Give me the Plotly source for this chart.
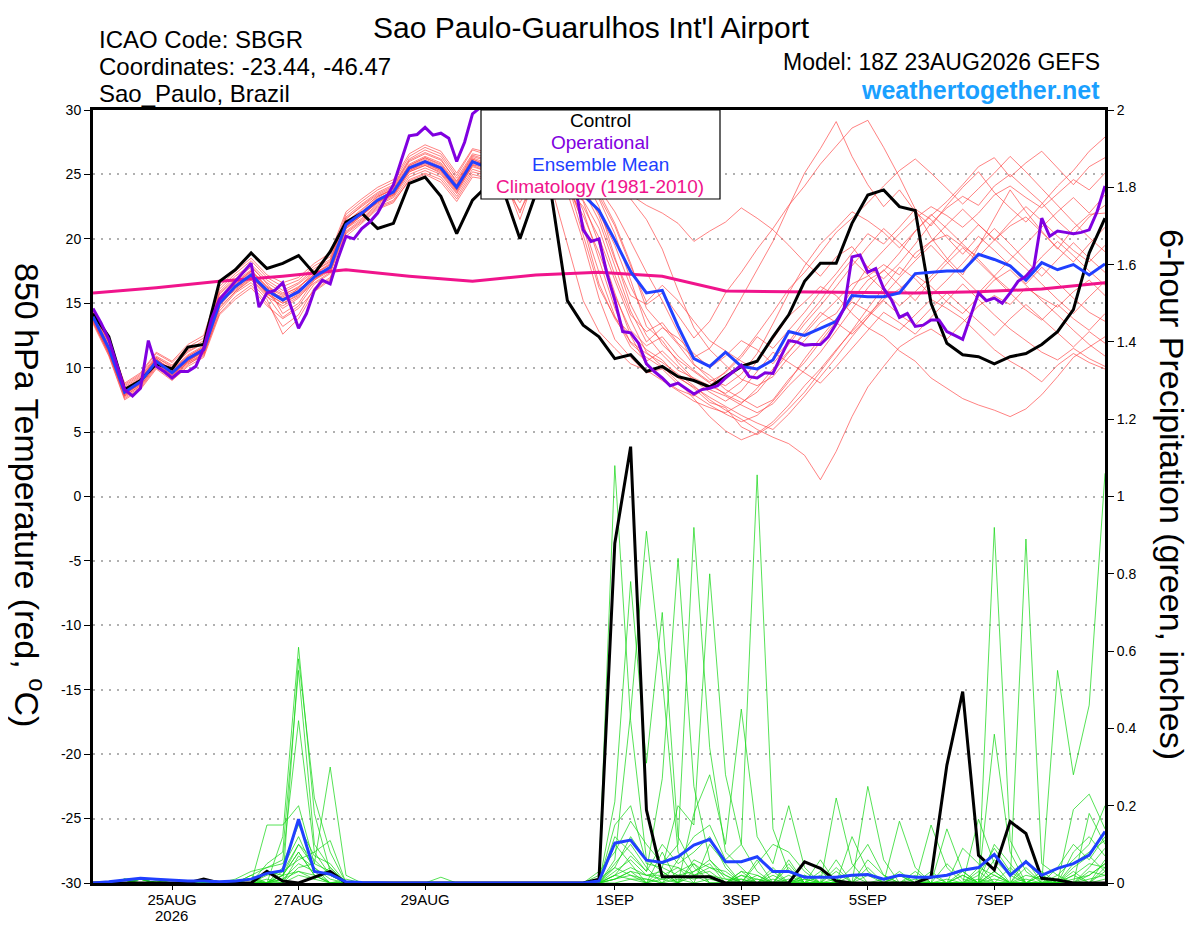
import plotly.graph_objects as go
import pandas as pd

# ---------------- time axis ----------------
START = "2026-08-23 18:00"
times6 = pd.date_range(START, periods=65, freq="6h")
times3 = pd.date_range(START, periods=129, freq="3h")
clim_times = times6[::4]

x_tick_dates = ["2026-08-25", "2026-08-27", "2026-08-29", "2026-09-01",
                "2026-09-03", "2026-09-05", "2026-09-07"]
x_tick_labels = ["25AUG", "27AUG", "29AUG", "1SEP", "3SEP", "5SEP", "7SEP"]
year_label = "2026"
temp_ticks = [-30, -25, -20, -15, -10, -5, 0, 5, 10, 15, 20, 25, 30]
temp_tick_labels = ["-30", "-25", "-20", "-15", "-10", "-5", "0", "5", "10", "15", "20", "25", "30"]
precip_ticks = [0, 0.2, 0.4, 0.6, 0.8, 1.0, 1.2, 1.4, 1.6, 1.8, 2.0]
precip_tick_labels = ["0", "0.2", "0.4", "0.6", "0.8", "1", "1.2", "1.4", "1.6", "1.8", "2"]

# ---------------- 850 hPa temperature (C) ----------------
control_temp = [14.2, 12.4, 8.3, 9.0, 10.3, 9.9, 11.6, 11.8, 16.7, 17.6, 18.9, 17.7, 18.1, 18.7, 17.3,
                19.0, 21.3, 22.0, 20.8, 21.2, 24.3, 24.8, 23.3, 20.4, 23.0, 24.2, 23.6, 20.0, 23.5, 23.3,
                15.2, 13.3, 12.4, 10.7, 11.0, 9.7, 10.1, 9.3, 9.0, 8.5, 9.3, 10.1, 10.5, 12.4, 14.1,
                16.7, 18.1, 18.1, 21.2, 23.4, 23.8, 22.5, 22.2, 15.0, 11.9, 11.0, 10.85, 10.3, 10.85, 11.1,
                11.8, 12.8, 14.5, 18.9, 21.6]

mean_temp = [13.95, 11.5, 8.1, 8.9, 10.5, 9.6, 10.7, 11.4, 15.0, 16.3, 17.2, 16.0, 15.25, 15.9, 17.05,
             17.8, 21.1, 22.0, 23.0, 23.65, 25.5, 26.0, 25.5, 24.0, 26.0, 25.5, 25.0, 24.5, 25.5, 25.8,
             25.0, 23.4, 22.2, 19.9, 17.45, 15.8, 16.0, 13.2, 10.7, 10.1, 11.2, 10.1, 9.9, 10.6, 12.8,
             12.5, 13.05, 13.6, 15.6, 15.5, 15.5, 15.8, 17.3, 17.4, 17.5, 17.5, 18.8, 18.4, 17.9, 16.8,
             18.15, 17.6, 18.0, 17.2, 18.05]

operational_temp = [
    14.6, 13.5, 12.2, 10.2, 8.3, 7.8, 8.4, 12.1,
    10.1, 9.7, 9.2, 9.7, 9.7, 10.1, 11.5, 13.8,
    15.3, 16.0, 16.7, 17.4, 18.1, 14.7, 15.8, 16.0,
    16.6, 14.8, 13.05, 14.2, 16.0, 16.8, 16.5, 18.5,
    20.2, 20.0, 20.8, 21.3, 22.0, 23.1, 24.2, 26.1,
    28.0, 28.1, 28.65, 28.05, 28.2, 27.8, 26.0, 27.5,
    29.7, 30.2, 30.5, 30.0, 29.5, 28.5, 27.8, 28.5,
    29.0, 28.0, 27.5, 27.0, 26.0, 24.0, 20.7, 19.8,
    20.0, 17.3, 15.25, 12.8, 12.7, 11.9, 10.3, 9.7,
    9.2, 8.6, 8.8, 8.4, 7.95, 8.3, 8.4, 8.6,
    9.2, 9.7, 10.2, 9.3, 9.2, 9.6, 9.55, 10.85,
    12.1, 12.0, 11.75, 11.8, 11.8, 12.4, 13.4, 14.6,
    18.6, 18.75, 17.4, 17.7, 16.15, 15.25, 13.9, 14.2,
    13.2, 13.3, 13.7, 13.7, 12.8, 12.5, 12.2, 14.0,
    15.8, 15.2, 15.4, 15.0, 15.8, 16.7, 17.1, 17.8,
    21.6, 20.2, 20.6, 20.5, 20.4, 20.5, 20.7, 22.1,
    24.1]

climatology_temp = [15.8, 16.2, 16.7, 17.1, 17.6, 17.1, 16.7, 17.2, 17.4, 17.1, 15.95, 15.9, 15.85,
                    15.8, 15.9, 16.1, 16.6]

t_m01 = [14.3, 11.9, 8.5, 9.3, 10.8, 10.1, 11.3, 11.9, 15.8, 16.9, 17.9, 16.5, 15.1, 16.2, 17.5, 18.2, 21.5, 22.6, 23.5, 24.1, 26.1, 26.7, 26.2, 24.4, 26.4, 26.0, 25.3, 23.8, 25.2, 24.0, 19.5, 15.2, 12.8, 11.5, 10.3, 9.8, 9.0, 8.2, 7.4, 6.9, 6.5, 7.2, 8.4, 9.9, 11.3, 12.6, 14.0, 15.2, 16.5, 17.1, 18.0, 17.2, 18.9, 19.8, 20.3, 19.4, 18.6, 19.9, 21.0, 21.7, 20.5, 19.3, 18.2, 19.6, 20.9]
t_m02 = [13.7, 11.2, 7.8, 8.6, 10.2, 9.3, 10.4, 11.0, 14.6, 15.9, 16.8, 15.5, 14.8, 15.5, 16.6, 17.4, 20.8, 21.6, 22.7, 23.3, 25.2, 25.7, 25.1, 23.6, 25.7, 25.8, 25.4, 24.9, 26.0, 26.4, 26.1, 25.5, 24.8, 24.0, 23.1, 21.5, 19.2, 16.0, 13.1, 11.4, 10.2, 9.1, 8.6, 9.3, 10.8, 12.1, 13.5, 14.2, 16.0, 17.8, 19.1, 20.4, 21.6, 22.5, 21.8, 20.9, 22.0, 23.4, 24.1, 23.2, 22.4, 23.5, 24.6, 23.8, 25.1]
t_m03 = [14.0, 11.6, 8.0, 8.7, 10.6, 9.8, 10.9, 11.6, 15.3, 16.6, 17.5, 16.2, 15.6, 16.3, 17.2, 18.0, 21.3, 22.2, 23.3, 23.8, 25.7, 26.3, 25.8, 24.2, 26.2, 25.6, 24.9, 24.3, 25.4, 25.7, 24.8, 21.0, 16.5, 13.8, 12.0, 11.1, 10.4, 9.5, 8.6, 7.5, 6.7, 6.0, 5.2, 4.6, 4.1, 3.2, 1.3, 3.5, 6.2, 8.5, 10.1, 11.6, 12.4, 13.0, 12.2, 13.5, 14.8, 15.6, 14.9, 16.2, 15.4, 14.7, 15.9, 16.8, 15.6]
t_m04 = [13.6, 11.0, 7.6, 8.4, 10.0, 9.1, 10.2, 11.1, 14.2, 15.5, 16.4, 15.0, 13.2, 14.1, 16.2, 17.0, 20.2, 21.2, 22.3, 22.8, 24.6, 25.1, 24.6, 23.1, 25.0, 24.7, 24.1, 22.2, 24.4, 24.9, 23.6, 19.8, 15.4, 12.2, 10.8, 9.6, 9.9, 8.7, 7.9, 7.1, 6.4, 5.8, 6.3, 7.4, 8.9, 10.7, 12.3, 13.8, 15.1, 14.4, 13.6, 12.9, 14.1, 15.3, 14.6, 13.8, 12.6, 11.4, 10.5, 9.8, 8.9, 10.2, 11.1, 10.4, 9.9]
t_m05 = [14.5, 12.1, 8.7, 9.5, 11.1, 10.4, 11.6, 12.3, 16.1, 17.3, 18.3, 17.0, 16.3, 16.8, 17.9, 18.6, 21.9, 22.9, 23.8, 24.4, 26.4, 27.1, 26.6, 24.9, 26.9, 26.5, 26.0, 25.6, 26.5, 26.8, 26.2, 24.9, 22.5, 18.6, 14.9, 12.5, 11.0, 9.8, 9.2, 8.6, 8.0, 8.9, 10.5, 12.2, 14.0, 15.1, 16.3, 15.6, 14.2, 13.1, 12.4, 11.3, 10.5, 9.2, 8.4, 7.6, 7.1, 6.7, 6.2, 6.8, 7.9, 9.3, 10.8, 11.6, 12.4]
t_m06 = [13.8, 11.4, 8.2, 9.0, 10.4, 9.5, 10.6, 11.2, 15.1, 16.0, 17.0, 15.8, 14.6, 15.4, 16.9, 17.6, 20.9, 21.8, 22.9, 23.6, 25.3, 25.9, 25.3, 23.8, 25.8, 25.3, 24.7, 23.9, 25.1, 25.5, 24.6, 23.0, 20.8, 17.2, 14.1, 12.8, 13.5, 11.9, 10.8, 11.5, 13.2, 15.4, 17.6, 19.8, 22.5, 25.1, 27.0, 29.1, 26.4, 24.2, 22.5, 23.8, 22.1, 21.0, 22.6, 24.0, 25.2, 23.6, 22.4, 21.3, 22.7, 24.1, 25.3, 26.8, 27.9]
t_m07 = [14.1, 11.7, 8.3, 9.1, 10.7, 9.7, 10.8, 11.5, 15.4, 16.5, 17.4, 16.1, 15.4, 15.9, 17.3, 18.1, 21.2, 22.1, 23.1, 23.7, 25.6, 26.2, 25.6, 24.1, 26.1, 25.5, 24.8, 22.0, 25.3, 25.9, 25.2, 24.1, 21.8, 18.4, 15.6, 14.9, 15.8, 14.1, 12.3, 13.6, 15.8, 17.4, 19.2, 20.8, 22.6, 24.1, 25.8, 27.2, 28.6, 29.2, 27.1, 24.8, 22.3, 20.1, 18.5, 17.2, 19.4, 21.6, 23.8, 22.1, 20.6, 19.2, 20.8, 21.9, 22.0]
t_m08 = [13.5, 11.1, 7.9, 8.8, 10.3, 9.4, 10.5, 11.3, 14.8, 16.2, 17.1, 15.7, 15.0, 15.7, 17.0, 17.9, 21.0, 21.9, 22.8, 23.5, 25.4, 26.0, 25.4, 23.9, 25.9, 25.9, 25.6, 25.2, 26.2, 26.6, 26.3, 25.8, 25.1, 24.3, 23.4, 22.6, 22.0, 21.2, 19.8, 20.6, 21.3, 22.4, 21.6, 20.7, 19.5, 18.2, 17.1, 18.6, 19.4, 17.8, 16.9, 18.1, 19.6, 21.2, 22.4, 23.3, 22.6, 24.1, 25.0, 23.9, 22.8, 21.4, 20.3, 21.7, 22.6]
t_m09 = [14.4, 12.0, 8.6, 9.4, 10.9, 10.2, 11.4, 12.1, 15.9, 17.1, 18.0, 16.8, 16.0, 16.6, 17.7, 18.4, 21.7, 22.7, 23.6, 24.2, 26.2, 26.9, 26.4, 24.7, 26.6, 26.3, 25.9, 25.4, 26.3, 26.5, 25.7, 24.2, 23.1, 20.4, 16.8, 13.2, 12.1, 10.4, 9.1, 8.3, 7.8, 7.1, 6.5, 7.2, 8.6, 9.8, 11.2, 12.9, 14.5, 16.2, 17.6, 16.4, 15.2, 16.8, 18.1, 19.3, 18.2, 17.0, 15.8, 14.6, 13.7, 14.9, 13.8, 12.9, 14.2]
t_m10 = [13.9, 11.3, 7.7, 8.5, 10.1, 9.2, 10.3, 10.9, 14.4, 15.8, 16.6, 15.3, 12.6, 13.8, 15.9, 16.8, 20.5, 21.4, 22.5, 23.0, 24.8, 25.3, 24.8, 23.3, 25.2, 24.9, 24.3, 23.5, 24.8, 25.1, 24.0, 21.8, 18.9, 15.6, 12.9, 11.7, 12.4, 10.9, 9.8, 8.9, 9.6, 10.8, 12.4, 11.5, 12.9, 14.3, 15.9, 17.3, 18.9, 20.4, 19.6, 20.9, 22.3, 21.5, 20.1, 18.8, 20.2, 19.1, 17.9, 16.5, 17.8, 16.6, 15.4, 14.3, 13.6]
t_m11 = [14.6, 12.2, 8.8, 9.6, 11.2, 10.5, 11.8, 12.5, 16.3, 17.5, 18.5, 17.2, 16.6, 17.0, 18.1, 18.9, 22.1, 23.1, 24.0, 24.6, 26.6, 27.3, 26.8, 25.1, 27.0, 26.7, 26.2, 25.8, 26.8, 27.1, 26.4, 25.1, 23.6, 21.2, 18.1, 14.6, 13.2, 11.8, 10.2, 9.4, 8.3, 7.6, 6.9, 7.5, 9.1, 10.4, 12.0, 13.6, 15.3, 16.8, 17.5, 18.9, 20.6, 21.8, 22.9, 24.2, 25.6, 26.3, 24.8, 25.9, 26.8, 25.5, 24.2, 25.6, 26.3]
t_m12 = [13.4, 10.9, 7.5, 8.3, 9.9, 9.0, 10.1, 10.8, 14.1, 15.3, 16.2, 14.8, 13.8, 14.6, 16.0, 16.9, 20.4, 21.3, 22.4, 22.9, 24.5, 25.0, 24.4, 22.9, 24.8, 24.6, 24.0, 23.1, 24.5, 24.8, 23.9, 22.5, 20.1, 16.8, 13.7, 11.2, 10.1, 8.9, 7.6, 6.2, 5.1, 4.4, 4.9, 5.8, 7.1, 8.6, 9.9, 11.4, 12.8, 14.1, 15.3, 16.1, 17.2, 16.3, 15.1, 14.2, 15.5, 16.8, 17.6, 16.4, 15.2, 14.1, 12.9, 11.8, 10.9]
t_m13 = [14.2, 11.7, 8.3, 9.0, 10.6, 9.9, 11.0, 11.7, 15.5, 16.7, 17.6, 16.3, 14.2, 15.0, 16.8, 17.7, 21.0, 22.0, 23.2, 23.9, 25.8, 26.4, 25.9, 24.3, 26.3, 25.8, 25.2, 24.6, 25.7, 26.0, 25.3, 23.8, 21.4, 17.9, 14.4, 12.0, 13.1, 12.3, 11.1, 10.0, 10.9, 12.1, 11.4, 10.3, 11.8, 13.4, 14.8, 16.3, 17.9, 19.4, 20.8, 19.7, 18.5, 19.8, 21.1, 22.3, 21.1, 19.9, 21.3, 22.5, 21.4, 20.2, 19.1, 18.2, 19.5]
t_m14 = [13.7, 11.2, 7.9, 8.7, 10.4, 9.5, 10.5, 11.2, 14.9, 16.1, 17.0, 15.9, 15.5, 16.1, 16.9, 17.6, 20.9, 21.8, 22.9, 23.4, 25.2, 25.7, 25.2, 23.7, 25.6, 25.2, 24.6, 24.1, 25.1, 25.4, 24.4, 20.3, 16.2, 13.9, 12.6, 11.4, 10.6, 9.3, 8.4, 7.3, 6.9, 5.4, 4.8, 5.6, 6.8, 8.1, 9.7, 11.3, 12.9, 14.6, 16.2, 17.8, 16.9, 15.6, 16.8, 18.1, 19.5, 20.8, 19.6, 18.3, 17.1, 18.4, 19.7, 18.5, 17.4]
t_m15 = [14.3, 11.9, 8.4, 9.2, 10.8, 10.0, 11.2, 11.9, 15.7, 16.8, 17.8, 16.6, 15.8, 16.5, 17.5, 18.3, 21.6, 22.5, 23.4, 24.0, 26.0, 26.6, 26.1, 24.5, 26.5, 26.1, 25.6, 25.1, 26.0, 26.3, 25.8, 25.0, 23.9, 22.1, 19.8, 17.4, 15.2, 12.8, 10.3, 9.1, 8.6, 9.5, 11.1, 13.4, 15.8, 17.9, 19.6, 20.8, 22.1, 21.4, 20.5, 19.3, 20.6, 21.9, 20.8, 19.6, 18.4, 17.1, 16.0, 17.2, 18.6, 19.8, 18.7, 17.5, 16.4]
t_m16 = [13.6, 11.1, 7.8, 8.6, 10.2, 9.3, 10.4, 11.1, 14.7, 15.9, 16.9, 15.6, 13.9, 14.8, 16.5, 17.3, 20.6, 21.5, 22.6, 23.2, 25.0, 25.5, 25.0, 23.5, 25.4, 25.0, 24.4, 22.8, 24.9, 25.2, 24.2, 22.9, 19.6, 15.8, 12.5, 10.2, 9.1, 8.3, 7.8, 8.6, 9.7, 11.0, 12.6, 14.3, 16.1, 17.4, 18.9, 20.5, 21.6, 22.8, 24.1, 25.3, 26.2, 25.1, 23.9, 22.7, 23.9, 25.1, 26.4, 25.2, 23.9, 22.6, 21.3, 20.1, 19.0]
t_m17 = [14.0, 11.5, 8.1, 8.9, 10.5, 9.6, 10.8, 11.4, 15.2, 16.4, 17.3, 16.0, 15.3, 16.0, 17.1, 17.8, 21.1, 22.0, 23.0, 23.6, 25.5, 26.1, 25.5, 24.0, 26.0, 25.6, 25.1, 24.7, 25.6, 25.9, 25.1, 23.6, 22.0, 19.5, 16.3, 13.9, 11.8, 10.6, 9.7, 8.8, 7.9, 7.3, 8.1, 9.6, 11.2, 12.8, 14.3, 13.5, 12.6, 13.9, 15.2, 14.1, 13.3, 14.6, 15.8, 14.7, 13.6, 12.5, 13.8, 14.9, 13.8, 12.7, 11.6, 12.8, 11.9]
t_m18 = [13.9, 11.4, 8.0, 8.8, 10.4, 9.4, 10.6, 11.3, 15.0, 16.3, 17.2, 15.9, 15.2, 15.8, 17.0, 17.7, 21.0, 21.9, 22.9, 23.5, 25.4, 25.9, 25.4, 23.9, 25.9, 25.4, 24.9, 24.4, 25.5, 25.8, 24.9, 22.2, 18.4, 14.6, 11.9, 10.8, 10.0, 9.2, 8.5, 7.7, 7.0, 6.3, 5.7, 5.2, 6.4, 7.8, 9.3, 10.8, 12.4, 13.9, 15.6, 17.0, 18.3, 19.5, 18.2, 17.0, 15.8, 17.1, 18.4, 19.6, 20.9, 22.1, 23.2, 22.0, 23.4]
t_m19 = [14.1, 11.6, 8.2, 9.1, 10.7, 9.8, 10.9, 11.6, 15.3, 16.5, 17.5, 16.3, 15.7, 16.2, 17.3, 18.0, 21.3, 22.3, 23.3, 23.9, 25.7, 26.3, 25.7, 24.2, 26.2, 25.7, 25.3, 24.8, 25.8, 26.1, 25.4, 24.5, 23.3, 21.0, 17.9, 15.1, 16.4, 15.2, 13.6, 12.1, 11.3, 10.5, 9.8, 10.6, 12.0, 13.7, 15.2, 16.9, 18.4, 17.2, 16.0, 14.8, 15.9, 17.1, 18.4, 19.8, 21.1, 20.0, 18.8, 17.7, 16.5, 15.3, 14.2, 15.5, 16.7]
t_m20 = [13.8, 11.3, 7.9, 8.8, 10.3, 9.4, 10.5, 11.3, 14.9, 16.2, 17.1, 15.8, 15.0, 15.6, 16.8, 17.5, 20.8, 21.8, 22.8, 23.4, 25.3, 25.8, 25.3, 23.8, 25.7, 25.2, 24.7, 21.5, 25.0, 25.3, 24.3, 21.2, 17.4, 14.0, 11.6, 10.5, 11.3, 10.1, 9.0, 8.1, 7.4, 8.2, 9.7, 11.2, 10.4, 9.6, 8.8, 10.1, 11.5, 12.9, 14.3, 13.5, 12.6, 13.9, 15.2, 16.5, 15.3, 14.1, 13.0, 12.1, 11.2, 10.6, 11.5, 10.7, 10.1]

# ---------------- 6-hour precipitation (inches) ----------------
control_precip = [0, 0, 0, 0, 0, 0, 0, .01, 0, 0, 0, .03, .005, 0, .016, .03, 0, 0, 0, 0,
                  0, 0, 0, 0, 0, 0, 0, 0, 0, 0, 0, 0, .01, .879, 1.129, .189, .016, .016, .016, .016,
                  0, 0, 0, 0, 0, .055, .038, .005, 0, 0, 0, 0, 0, .016, .305, .495, .072, .034, .159, .128,
                  .012, .008, 0, 0, 0]
mean_precip = [0, .003, .008, .012, .01, .008, .005, .005, .003, .005, .01, .025, .032, .165, .03,
               .023, .003, .001, 0, 0, 0, 0, .001, 0, 0, 0, 0, 0, 0, 0, 0, 0, .005, .103, .111,
               .059, .053, .068, .098, .113, .055, .055, .068, .03, .03, .015, .015, .015, .02, .022,
               .01, .02, .015, .015, .02, .033, .04, .074, .02, .055, .02, .038, .05, .072, .133]

p_m01 = [0,0,.01,.01,0, 0,0,0,0,0, .02,0,.12,.61,.18, .03,0,0,0,0, 0,0,0,0,0, 0,0,0,0,0, 0,0,.02,1.08,.42, .06,.03,0,.05,0, 0,0,.02,0,0, 0,0,.04,0,0, 0,.03,0,0,0, 0,.02,.09,.03,0, 0,0,.05,.08,.11]
p_m02 = [0,0,0,.01,.01, 0,0,0,0,0, 0,.05,.08,.55,.1, .04,0,0,0,0, 0,0,0,0,0, 0,0,0,0,0, 0,0,0,.21,.78, .31,.7,.12,.04,0, 0,.03,0,0,.05, 0,0,0,0,.02, 0,0,0,0,0, .03,0,.92,.11,.03, 0,0,0,.02,.05]
p_m03 = [0,0,.01,0,0, 0,0,0,0,.01, .03,.04,.06,.42,.08, .11,0,0,0,0, 0,0,0,0,0, 0,0,0,0,0, 0,0,0,.06,.44, .91,.53,.08,.02,0, 0,0,0,.03,0, .01,0,0,0,0, 0,0,.02,0,0, 0,0,0,0,.89, .05,.02,0,0,.03]
p_m04 = [0,0,0,.01,0, 0,0,0,0,0, 0,.15,.15,.2,.05, .3,.02,0,0,0, 0,0,0,0,0, 0,0,0,0,0, 0,0,0,.12,.08, .03,.27,.84,.25,.06, .02,0,0,0,0, 0,0,.22,.05,0, 0,0,0,0,.14, .03,0,0,0,0, 0,.55,.28,.46,1.06]
p_m05 = [0,0,0,0,.005, 0,0,0,0,0, .02,.04,.05,.15,.07, .05,0,0,0,0, 0,0,0,0,0, 0,0,0,0,0, 0,0,.01,.04,.12, .06,.05,.1,.92,.35, .08,.04,0,0,0, 0,0,0,0,.25, .06,0,0,.15,.04, 0,0,0,0,0, 0,0,.08,.12,.07]
p_m06 = [0,0,.01,0,0, 0,0,0,0,0, 0,0,.04,.12,.03, .02,0,0,0,0, 0,0,0,0,0, 0,0,0,0,0, 0,0,0,.15,.2, .05,.04,.2,.15,.8, .28,.1,.03,0,0, 0,.06,0,0,0, 0,.16,.04,0,0, 0,0,.385,.08,0, .03,0,.19,.23,.14]
p_m07 = [0,0,0,.01,0, 0,0,0,0,0, 0,.03,.02,.1,.06, .02,0,0,0,0, 0,0,0,0,0, 0,0,0,0,0, 0,0,0,.1,.05, 0,.08,0,.18,.28, .1,.45,.12,.05,.2, .04,0,0,0,0, 0,0,0,0,0, 0,.165,.05,0,0, 0,.04,.1,.06,.12]
p_m08 = [0,0,0,0,0, 0,0,0,0,0, .01,0,.03,.1,.04, 0,0,0,0,0, 0,0,0,0,0, 0,0,0,0,0, 0,0,0,.05,.1, .04,0,.06,.12,.15, .06,.1,1.056,.14,.03, 0,0,0,.04,.1, .02,0,0,0,0, .02,0,.06,.02,0, 0,0,0,.18,.1]
p_m09 = [0,0,0,.01,0, 0,0,0,0,0, 0,0,.02,.08,.02, 0,0,0,0,0, 0,0,0,0,0, 0,0,0,0,0, 0,0,.03,.08,.16, .1,.05,.04,0,.1, .05,0,.05,.1,.08, .03,0,.06,0,.04, 0,0,0,.02,0, 0,0,.03,0,0, .02,0,.03,0,.06]
p_m10 = [0,0,0,0,.005, 0,0,0,0,0, 0,0,.02,.08,.02, 0,.01,0,0,0, 0,0,0,0,0, 0,0,0,0,0, 0,0,0,.03,.06, .02,.02,0,.06,.04, .02,0,.06,0,.04, 0,.02,0,.12,.03, 0,0,.03,0,0, 0,.04,.02,0,.06, 0,0,.02,.05,.04]
p_m11 = [0,0,0,.01,0, 0,0,0,0,0, 0,0,0,.07,.04, .01,0,0,0,0, 0,0,.015,0,0, 0,0,0,0,0, 0,0,0,.02,.07, .03,.1,.05,.08,.12, .04,0,0,.02,0, .02,0,0,0,0, .01,0,0,0,.05, .01,0,0,.04,0, 0,.02,.06,.1,.2]
p_m12 = [0,0,0,0,0, 0,0,0,0,0, 0,.02,.03,.06,.08, .02,0,0,0,0, 0,0,0,0,0, 0,0,0,0,0, 0,0,0,.01,.03, 0,.04,.02,.03,.05, 0,.03,.02,0,.06, 0,0,.03,0,0, 0,.02,0,0,0, .09,.05,0,0,.02, .01,0,.04,.07,.03]
p_m13 = [0,0,.01,.01,0, 0,0,0,0,0, 0,0,.01,.05,.03, 0,0,0,0,0, 0,0,0,0,0, 0,0,0,0,0, 0,0,0,.04,.02, .01,0,.03,.05,.02, .01,.01,0,.04,0, .02,0,0,0,.06, .02,0,0,0,0, 0,0,.1,.05,0, .02,0,0,.04,.09]
p_m14 = [0,0,0,0,0, 0,0,0,0,0, 0,0,0,.04,.05, .03,0,0,0,0, 0,0,0,0,0, 0,0,0,0,0, 0,0,0,.02,.04, .02,.03,0,.02,.04, .03,0,.01,0,0, 0,.03,0,.02,0, 0,0,0,.03,0, 0,.03,0,0,.04, 0,.01,0,.03,.02]
p_m15 = [0,0,0,0,0, 0,0,0,0,0, 0,0,.01,.03,.02, 0,0,0,0,0, 0,0,0,0,0, 0,0,0,0,0, 0,0,0,.01,.02, 0,.01,.02,.01,.02, 0,.02,.01,0,.02, 0,0,0,0,0, 0,0,0,0,0, .02,0,.02,0,0, 0,0,.02,0,.04]
p_m16 = [0,0,0,0,0, 0,0,0,0,0, 0,.01,0,.58,.22, .08,0,0,0,0, 0,0,0,0,0, 0,0,0,0,0, 0,0,0,.01,.03, .02,.01,0,.03,.06, .01,0,0,.01,0, .01,0,0,0,0, 0,0,.01,0,0, 0,0,.01,0,0, 0,0,0,.01,.02]
p_m17 = [0,0,0,0,0, 0,0,0,0,0, 0,0,0,.02,.01, 0,0,0,0,0, 0,0,0,0,0, 0,0,0,0,0, 0,0,0,0,.01, .01,0,.01,0,.01, 0,.02,0,0,0, 0,0,0,0,0, 0,0,0,0,0, 0,.01,0,0,0, 0,.01,0,0,.01]
p_m18 = [0,0,0,0,0, 0,0,0,0,0, .01,0,.02,.03,.01, .04,0,0,0,0, 0,0,0,0,0, 0,0,0,0,0, 0,0,0,.02,.01, 0,.02,.04,.02,.03, 0,.01,0,0,.01, 0,0,.01,0,0, 0,.02,0,0,.01, 0,0,.03,0,.01, 0,0,.01,.02,.05]

temp_members = [t_m01, t_m02, t_m03, t_m04, t_m05, t_m06, t_m07, t_m08, t_m09, t_m10,
                t_m11, t_m12, t_m13, t_m14, t_m15, t_m16, t_m17, t_m18, t_m19, t_m20]
precip_members = [p_m01, p_m02, p_m03, p_m04, p_m05, p_m06, p_m07, p_m08, p_m09,
                  p_m10, p_m11, p_m12, p_m13, p_m14, p_m15, p_m16, p_m17, p_m18]

legend_lines = ["Control", "Operational", "Ensemble Mean", "Climatology (1981-2010)"]

# ---------------- styling ----------------
FONT = "Liberation Sans, Arial, Helvetica, sans-serif"
RED = "rgba(255,70,70,0.85)"
GREEN = "rgba(20,215,20,0.9)"
BLACK = "#000000"
PURPLE = "#8000E0"
BLUE = "#2040FF"
PINK = "#F0148C"
SITE_BLUE = "#1AA0FF"
legend_colors = [BLACK, PURPLE, BLUE, PINK]

fig = go.Figure()

for m in temp_members:
    fig.add_trace(go.Scatter(x=times6[:len(m)], y=m, mode="lines", yaxis="y",
                             line=dict(color=RED, width=0.8), hoverinfo="skip"))
fig.add_trace(go.Scatter(x=clim_times[:len(climatology_temp)], y=climatology_temp, mode="lines",
                         yaxis="y", line=dict(color=PINK, width=3), hoverinfo="skip"))
fig.add_trace(go.Scatter(x=times6[:len(control_temp)], y=control_temp, mode="lines", yaxis="y",
                         line=dict(color=BLACK, width=3), hoverinfo="skip"))
fig.add_trace(go.Scatter(x=times6[:len(mean_temp)], y=mean_temp, mode="lines", yaxis="y",
                         line=dict(color=BLUE, width=3), hoverinfo="skip"))
fig.add_trace(go.Scatter(x=times3[:len(operational_temp)], y=operational_temp, mode="lines",
                         yaxis="y", line=dict(color=PURPLE, width=3), hoverinfo="skip"))

for m in precip_members:
    fig.add_trace(go.Scatter(x=times6[:len(m)], y=m, mode="lines", yaxis="y2",
                             line=dict(color=GREEN, width=0.8), hoverinfo="skip"))
fig.add_trace(go.Scatter(x=times6[:len(control_precip)], y=control_precip, mode="lines",
                         yaxis="y2", line=dict(color=BLACK, width=3), hoverinfo="skip"))
fig.add_trace(go.Scatter(x=times6[:len(mean_precip)], y=mean_precip, mode="lines",
                         yaxis="y2", line=dict(color=BLUE, width=3), hoverinfo="skip"))

# Page layout in window pixels; the page body adds an 8px offset to the figure.
OFF = 8
FIG_W, FIG_H = 1200 - OFF, 927 - OFF
L, R, T, B = 93, 1105, 110, 883   # plot area in window pixels


def px(x):
    return (x - L) / (R - L)


def py(y):
    return (B - y) / (B - T)


annotations = [
    dict(text="Sao Paulo-Guarulhos Int'l Airport", x=px(591), y=py(9), xanchor="center",
         yanchor="top", font=dict(size=30)),
    dict(text="ICAO Code: SBGR", x=px(97), y=py(40), xanchor="left", yanchor="middle",
         font=dict(size=24)),
    dict(text="Coordinates: -23.44, -46.47", x=px(97), y=py(67), xanchor="left",
         yanchor="middle", font=dict(size=24)),
    dict(text="Sao_Paulo, Brazil", x=px(97), y=py(94), xanchor="left", yanchor="middle",
         font=dict(size=24)),
    dict(text="Model: 18Z 23AUG2026 GEFS", x=px(1102), y=py(62), xanchor="right",
         yanchor="middle", font=dict(size=23)),
    dict(text="<b>weathertogether.net</b>", x=px(1102), y=py(90), xanchor="right",
         yanchor="middle", font=dict(size=25, color=SITE_BLUE)),
    dict(text="850 hPa Temperature (red, <sup>o</sup>C)", x=px(30), y=py(495), textangle=90,
         xanchor="center", yanchor="middle", font=dict(size=34)),
    dict(text="6-hour Precipitation (green, inches)", x=px(1172), y=py(494), textangle=90,
         xanchor="center", yanchor="middle", font=dict(size=34)),
    dict(text=year_label, x=px(171), y=py(915), xanchor="center", yanchor="middle",
         font=dict(size=15)),
]
legend_y = [121, 142.5, 164, 186]
for txt, col, yy in zip(legend_lines, legend_colors, legend_y):
    annotations.append(dict(text=txt, x=px(600), y=py(yy), xanchor="center", yanchor="middle",
                            font=dict(size=19, color=col)))
for a in annotations:
    a.update(xref="paper", yref="paper", showarrow=False)
    a["font"] = dict(family=FONT, color=a["font"].get("color", "black"), size=a["font"]["size"])

shapes = [dict(type="rect", xref="paper", yref="paper", x0=px(481), x1=px(720),
               y0=py(199), y1=py(110), fillcolor="white", line=dict(color="black", width=1.2),
               layer="above")]

fig.update_layout(
    width=FIG_W, height=FIG_H, autosize=False,
    margin=dict(l=L - OFF, r=FIG_W - (R - OFF), t=T - OFF, b=FIG_H - (B - OFF)),
    paper_bgcolor="white", plot_bgcolor="white",
    showlegend=False,
    font=dict(family=FONT, color="black"),
    annotations=annotations,
    shapes=shapes,
    xaxis=dict(type="date", range=[times6[0], times6[-1]], tickvals=x_tick_dates,
               ticktext=x_tick_labels, ticks="outside", ticklen=4, tickwidth=1,
               tickcolor="black", showline=True, linewidth=3, linecolor="black", mirror=True,
               showgrid=False, zeroline=False, automargin=False, ticklabelstandoff=-3,
               tickfont=dict(size=15, family=FONT)),
    yaxis=dict(range=[-30, 30], tickvals=temp_ticks, ticktext=temp_tick_labels,
               ticks="outside", ticklen=6, tickcolor="black", showline=True, linewidth=3,
               linecolor="black", showgrid=True, gridcolor="#B0B0B0", gridwidth=1.5,
               griddash="2px,6px", zeroline=False, automargin=False,
               tickfont=dict(size=14, family=FONT)),
    yaxis2=dict(range=[0, 2], overlaying="y", side="right", anchor="x",
                tickvals=precip_ticks, ticktext=precip_tick_labels, ticks="outside",
                ticklen=6, tickcolor="black", showline=True, linewidth=3, linecolor="black",
                showgrid=False, zeroline=False, automargin=False,
                tickfont=dict(size=14, family=FONT)),
)

fig.write_html("out.html")
